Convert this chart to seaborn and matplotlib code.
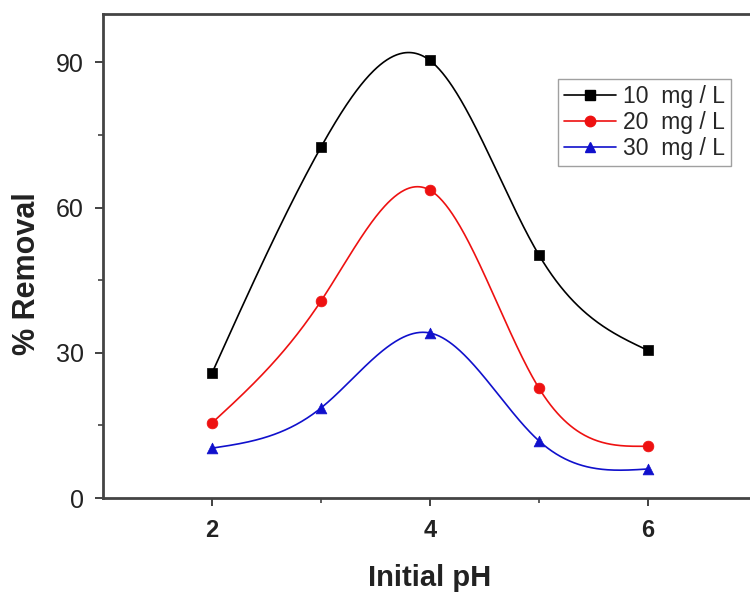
import numpy as np
import pandas as pd
import matplotlib
matplotlib.use("Agg")
import matplotlib.pyplot as plt
from matplotlib.lines import Line2D
import seaborn as sns

ph = [2, 3, 4, 5, 6]
removal_10 = [25.8, 72.5, 90.4, 50.2, 30.5]
removal_20 = [15.5, 40.7, 63.6, 22.7, 10.7]
removal_30 = [10.3, 18.6, 34.1, 11.8, 6.0]
labels = ["10  mg / L", "20  mg / L", "30  mg / L"]
colors = ["black", "#ee1111", "#1010cc"]
markers = ["s", "o", "^"]


def natural_spline(x, y, xs):
    x = np.asarray(x, float); y = np.asarray(y, float)
    n = len(x)
    h = np.diff(x)
    A = np.zeros((n, n)); b = np.zeros(n)
    A[0, 0] = 1; A[-1, -1] = 1
    for i in range(1, n - 1):
        A[i, i - 1] = h[i - 1]
        A[i, i] = 2 * (h[i - 1] + h[i])
        A[i, i + 1] = h[i]
        b[i] = 3 * ((y[i + 1] - y[i]) / h[i] - (y[i] - y[i - 1]) / h[i - 1])
    c = np.linalg.solve(A, b)
    bcoef = (y[1:] - y[:-1]) / h - h * (2 * c[:-1] + c[1:]) / 3
    d = (c[1:] - c[:-1]) / (3 * h)
    idx = np.clip(np.searchsorted(x, xs) - 1, 0, n - 2)
    dx = xs - x[idx]
    return y[idx] + bcoef[idx] * dx + c[idx] * dx ** 2 + d[idx] * dx ** 3


sns.set_theme(style="ticks")
plt.rcParams['font.family'] = ['Liberation Sans', 'DejaVu Sans']

fig = plt.figure(figsize=(7.5, 5.97), dpi=100)
ax = fig.add_axes([0.1373, 0.1658, 0.872, 0.8107])

xs = np.linspace(2, 6, 400)
series = [removal_10, removal_20, removal_30]
handles = []
for vals, lab, col, mk in zip(series, labels, colors, markers):
    curve = pd.DataFrame({"x": xs, "y": natural_spline(ph, vals, xs)})
    sns.lineplot(data=curve, x="x", y="y", color=col, linewidth=1.2, ax=ax)
    pts = pd.DataFrame({"x": ph, "y": vals})
    sns.scatterplot(data=pts, x="x", y="y", color=col, marker=mk, s=60,
                    edgecolor=col, linewidth=0.5, ax=ax, zorder=3)
    handles.append(Line2D([0], [0], color=col, marker=mk, markersize=7.5,
                          linewidth=1.2, label=lab))

ax.set_xlim(1, 7)
ax.set_ylim(0, 100)
ax.set_xticks([2, 4, 6])
ax.set_xticks([3, 5], minor=True)
ax.set_yticks([0, 30, 60, 90])
ax.set_yticks([15, 45, 75], minor=True)
ax.tick_params(axis='both', which='major', direction='out', length=6, width=1.3,
               colors='#333333', labelcolor='#222222')
ax.tick_params(axis='both', which='minor', direction='out', length=3.5, width=1.1,
               colors='#333333')
ax.tick_params(axis='y', labelsize=18, pad=8)
ax.tick_params(axis='x', labelsize=17, pad=9)
for t in ax.get_xticklabels():
    t.set_fontweight('bold')

for sp in ax.spines.values():
    sp.set_visible(True)
    sp.set_linewidth(2)
    sp.set_color('#444444')

ax.set_xlabel("Initial pH", fontsize=21, fontweight='bold', color='#222222', labelpad=16)
ax.set_ylabel("% Removal", fontsize=22, fontweight='bold', color='#222222')
ax.yaxis.set_label_coords(-0.093, 0.463)

leg = ax.legend(handles=handles, loc='upper left', bbox_to_anchor=(0.744, 0.868),
                bbox_transform=fig.transFigure, fontsize=16.5, frameon=True,
                fancybox=False, borderpad=0.25, labelspacing=0.15, handlelength=2.3,
                handletextpad=0.3, borderaxespad=0)
leg.get_frame().set_edgecolor('#888888')
leg.get_frame().set_linewidth(1)

fig.savefig("out.png", dpi=100)
